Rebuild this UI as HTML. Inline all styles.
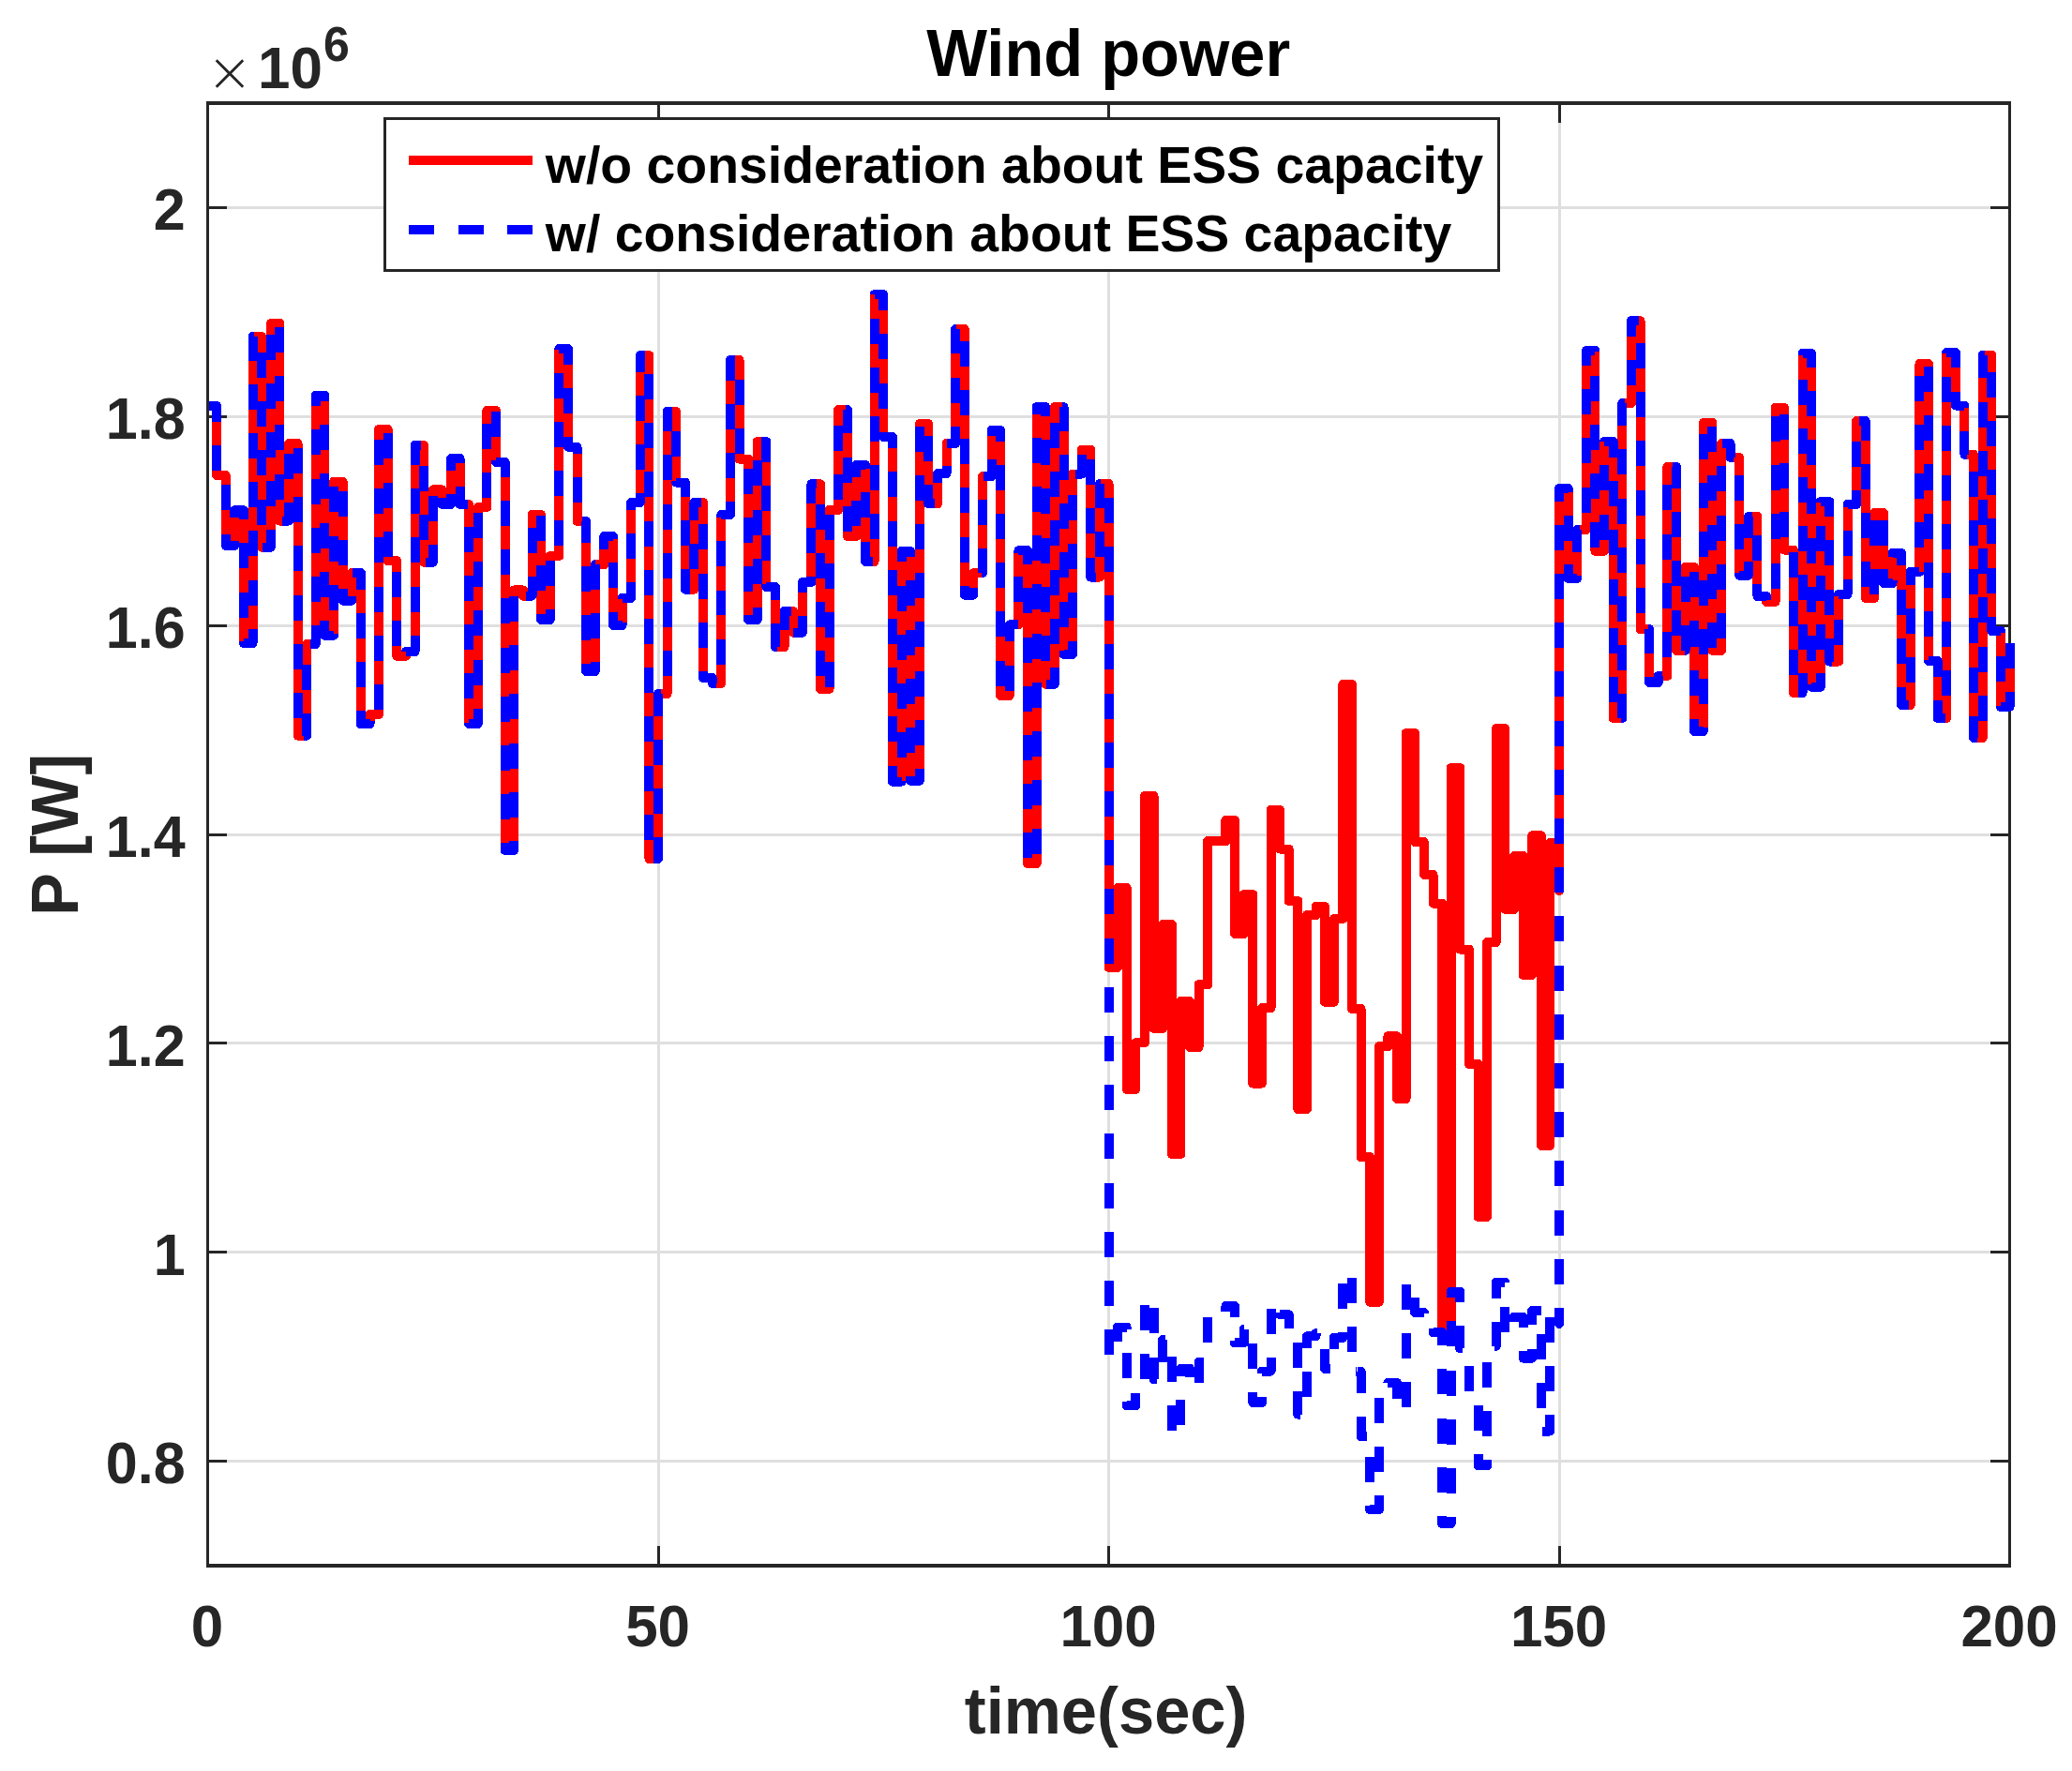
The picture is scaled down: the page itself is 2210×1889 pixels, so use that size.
<!DOCTYPE html>
<html><head><meta charset="utf-8"><title>Wind power</title>
<style>html,body{margin:0;padding:0;background:#fff}svg{display:block}text{font-family:"Liberation Sans",Arial,Helvetica,sans-serif;font-weight:bold}</style></head><body>
<svg width="2210" height="1889" viewBox="0 0 2210 1889" shape-rendering="crispEdges">
<rect width="2210" height="1889" fill="#fff"/>
<g><rect x="701" y="110" width="3" height="1560" fill="#dfdfdf"/><rect x="1181" y="110" width="3" height="1560" fill="#dfdfdf"/><rect x="1662" y="110" width="3" height="1560" fill="#dfdfdf"/><rect x="222" y="1557" width="1922" height="3" fill="#dfdfdf"/><rect x="222" y="1334" width="1922" height="3" fill="#dfdfdf"/><rect x="222" y="1111" width="1922" height="3" fill="#dfdfdf"/><rect x="222" y="889" width="1922" height="3" fill="#dfdfdf"/><rect x="222" y="666" width="1922" height="3" fill="#dfdfdf"/><rect x="222" y="443" width="1922" height="3" fill="#dfdfdf"/><rect x="222" y="220" width="1922" height="3" fill="#dfdfdf"/></g>
<defs><clipPath id="c"><rect x="223.0" y="110.0" width="1926.5" height="1560.0"/></clipPath></defs>
<g><rect x="220" y="108" width="1925" height="4" fill="#262626"/><rect x="220" y="1668" width="1925" height="4" fill="#262626"/><rect x="220" y="108" width="3" height="1564" fill="#262626"/><rect x="2142" y="108" width="3" height="1564" fill="#262626"/><rect x="701" y="1649" width="3" height="20" fill="#262626"/><rect x="701" y="111" width="3" height="20" fill="#262626"/><rect x="1181" y="1649" width="3" height="20" fill="#262626"/><rect x="1181" y="111" width="3" height="20" fill="#262626"/><rect x="1662" y="1649" width="3" height="20" fill="#262626"/><rect x="1662" y="111" width="3" height="20" fill="#262626"/><rect x="222" y="1557" width="20" height="3" fill="#262626"/><rect x="2123" y="1557" width="20" height="3" fill="#262626"/><rect x="222" y="1334" width="20" height="3" fill="#262626"/><rect x="2123" y="1334" width="20" height="3" fill="#262626"/><rect x="222" y="1111" width="20" height="3" fill="#262626"/><rect x="2123" y="1111" width="20" height="3" fill="#262626"/><rect x="222" y="889" width="20" height="3" fill="#262626"/><rect x="2123" y="889" width="20" height="3" fill="#262626"/><rect x="222" y="666" width="20" height="3" fill="#262626"/><rect x="2123" y="666" width="20" height="3" fill="#262626"/><rect x="222" y="443" width="20" height="3" fill="#262626"/><rect x="2123" y="443" width="20" height="3" fill="#262626"/><rect x="222" y="220" width="20" height="3" fill="#262626"/><rect x="2123" y="220" width="20" height="3" fill="#262626"/></g>
<g clip-path="url(#c)" fill="none" stroke-width="10" stroke-linejoin="round">
<path d="M221.5 433.1 L231.1 433.1 L231.1 506.9 L240.7 506.9 L240.7 581.9 L250.3 581.9 L250.3 544.3 L259.9 544.3 L259.9 686 L269.6 686 L269.6 359 L279.2 359 L279.2 583.8 L288.8 583.8 L288.8 345 L298.4 345 L298.4 555.6 L308 555.6 L308 473.1 L317.6 473.1 L317.6 784.7 L327.2 784.7 L327.2 686.9 L336.8 686.9 L336.8 421.9 L346.4 421.9 L346.4 677.7 L356 677.7 L356 513.7 L365.6 513.7 L365.6 640.6 L375.3 640.6 L375.3 611 L384.9 611 L384.9 772.4 L394.5 772.4 L394.5 761.9 L404.1 761.9 L404.1 457.9 L413.7 457.9 L413.7 598.1 L423.3 598.1 L423.3 699.8 L432.9 699.8 L432.9 695 L442.5 695 L442.5 475 L452.1 475 L452.1 599.7 L461.8 599.7 L461.8 522.3 L471.4 522.3 L471.4 537.8 L481 537.8 L481 489.1 L490.6 489.1 L490.6 537.9 L500.2 537.9 L500.2 771.9 L509.8 771.9 L509.8 541 L519.4 541 L519.4 437.9 L529 437.9 L529 492.9 L538.6 492.9 L538.6 906.9 L548.2 906.9 L548.2 629.4 L557.9 629.4 L557.9 635.6 L567.5 635.6 L567.5 549 L577.1 549 L577.1 661 L586.7 661 L586.7 593 L596.3 593 L596.3 372.1 L605.9 372.1 L605.9 476.6 L615.5 476.6 L615.5 555.9 L625.1 555.9 L625.1 715.9 L634.7 715.9 L634.7 602.1 L644.3 602.1 L644.3 572.1 L654 572.1 L654 666.9 L663.6 666.9 L663.6 637.8 L673.2 637.8 L673.2 536 L682.8 536 L682.8 379.1 L692.4 379.1 L692.4 915.9 L702 915.9 L702 740 L711.6 740 L711.6 439 L721.2 439 L721.2 514.5 L730.8 514.5 L730.8 628.7 L740.4 628.7 L740.4 536 L750 536 L750 723.1 L759.7 723.1 L759.7 728.8 L769.3 728.8 L769.3 549.1 L778.9 549.1 L778.9 384 L788.5 384 L788.5 489.7 L798.1 489.7 L798.1 660.9 L807.7 660.9 L807.7 471 L817.3 471 L817.3 626 L826.9 626 L826.9 690 L836.5 690 L836.5 652.1 L846.1 652.1 L846.1 674.7 L855.8 674.7 L855.8 621 L865.4 621 L865.4 516.3 L875 516.3 L875 734.8 L884.6 734.8 L884.6 544 L894.2 544 L894.2 437 L903.8 437 L903.8 571.9 L913.4 571.9 L913.4 496 L923 496 L923 598.9 L932.6 598.9 L932.6 314.1 L942.2 314.1 L942.2 466 L951.9 466 L951.9 833.7 L961.5 833.7 L961.5 588.1 L971.1 588.1 L971.1 832.8 L980.7 832.8 L980.7 452.1 L990.3 452.1 L990.3 537.4 L999.9 537.4 L999.9 505.2 L1009.5 505.2 L1009.5 473.1 L1019.1 473.1 L1019.1 351 L1028.7 351 L1028.7 634.7 L1038.3 634.7 L1038.3 611.2 L1048 611.2 L1048 508.1 L1057.6 508.1 L1057.6 459 L1067.2 459 L1067.2 741.9 L1076.8 741.9 L1076.8 666.3 L1086.4 666.3 L1086.4 587.2 L1096 587.2 L1096 921.1 L1105.6 921.1 L1105.6 434.1 L1115.2 434.1 L1115.2 729.8 L1124.8 729.8 L1124.8 434.1 L1134.5 434.1 L1134.5 697.8 L1144.1 697.8 L1144.1 505.6 L1153.7 505.6 L1153.7 479.9 L1163.3 479.9 L1163.3 615.6 L1172.9 615.6 L1172.9 516 L1182.5 516 L1182.5 1031.8 L1192.1 1031.8 L1192.1 947.1 L1201.7 947.1 L1201.7 1161.9 L1211.3 1161.9 L1211.3 1112.2 L1220.9 1112.2 L1220.9 849 L1230.5 849 L1230.5 1096.9 L1240.2 1096.9 L1240.2 985.9 L1249.8 985.9 L1249.8 1231 L1259.4 1231 L1259.4 1068.1 L1269 1068.1 L1269 1116.9 L1278.6 1116.9 L1278.6 1050.2 L1288.2 1050.2 L1288.2 897.1 L1297.8 897.1 L1307.4 897.1 L1307.4 875 L1317 875 L1317 995.9 L1326.7 995.9 L1326.7 954 L1336.3 954 L1336.3 1155.5 L1345.9 1155.5 L1345.9 1075.2 L1355.5 1075.2 L1355.5 864 L1365.1 864 L1365.1 905.6 L1374.7 905.6 L1374.7 961 L1384.3 961 L1384.3 1182.9 L1393.9 1182.9 L1393.9 976 L1403.5 976 L1403.5 967.1 L1413.1 967.1 L1413.1 1068.7 L1422.8 1068.7 L1422.8 980 L1432.4 980 L1432.4 730 L1442 730 L1442 1076 L1451.6 1076 L1451.6 1234.1 L1461.2 1234.1 L1461.2 1388.8 L1470.8 1388.8 L1470.8 1116.2 L1480.4 1116.2 L1480.4 1105.3 L1490 1105.3 L1490 1171.9 L1499.6 1171.9 L1499.6 782.1 L1509.2 782.1 L1509.2 898.1 L1518.8 898.1 L1518.8 932.8 L1528.5 932.8 L1528.5 963.5 L1538.1 963.5 L1538.1 1416.3 L1547.7 1416.3 L1547.7 819 L1557.3 819 L1557.3 1012.5 L1566.9 1012.5 L1566.9 1135 L1576.5 1135 L1576.5 1297.8 L1586.1 1297.8 L1586.1 1005.2 L1595.7 1005.2 L1595.7 777.1 L1605.3 777.1 L1605.3 969.8 L1615 969.8 L1615 913.1 L1624.6 913.1 L1624.6 1039.8 L1634.2 1039.8 L1634.2 891.2 L1643.8 891.2 L1643.8 1221.8 L1653.4 1221.8 L1653.4 899.1 L1663 899.1 L1663 950.2 L1663 520.9 L1672.6 520.9 L1672.6 616.9 L1682.2 616.9 L1682.2 565 L1691.8 565 L1691.8 374 L1701.4 374 L1701.4 587.7 L1711 587.7 L1711 471 L1720.7 471 L1720.7 766 L1730.3 766 L1730.3 430 L1739.9 430 L1739.9 342.1 L1749.5 342.1 L1749.5 671 L1759.1 671 L1759.1 727.9 L1768.7 727.9 L1768.7 721 L1778.3 721 L1778.3 497.9 L1787.9 497.9 L1787.9 693.8 L1797.5 693.8 L1797.5 605 L1807.2 605 L1807.2 780 L1816.8 780 L1816.8 451 L1826.4 451 L1826.4 693.8 L1836 693.8 L1836 473.1 L1845.6 473.1 L1845.6 487.9 L1855.2 487.9 L1855.2 613.8 L1864.8 613.8 L1864.8 551 L1874.4 551 L1874.4 635.9 L1884 635.9 L1884 641.8 L1893.6 641.8 L1893.6 435 L1903.2 435 L1903.2 586.5 L1912.9 586.5 L1912.9 739 L1922.5 739 L1922.5 376.9 L1932.1 376.9 L1932.1 732.8 L1941.7 732.8 L1941.7 535 L1951.3 535 L1951.3 705.6 L1960.9 705.6 L1960.9 634 L1970.5 634 L1970.5 538 L1980.1 538 L1980.1 449.1 L1989.7 449.1 L1989.7 637.9 L1999.3 637.9 L1999.3 547.1 L2009 547.1 L2009 621.9 L2018.6 621.9 L2018.6 590 L2028.2 590 L2028.2 751.9 L2037.8 751.9 L2037.8 609.9 L2047.4 609.9 L2047.4 388.1 L2057 388.1 L2057 704.9 L2066.6 704.9 L2066.6 765.9 L2076.2 765.9 L2076.2 376 L2085.8 376 L2085.8 432.5 L2095.4 432.5 L2095.4 484.8 L2105.1 484.8 L2105.1 786.9 L2114.7 786.9 L2114.7 378.8 L2124.3 378.8 L2124.3 672.9 L2133.9 672.9 L2133.9 753.9 L2143.5 753.9 L2143.5 686.2" stroke="#ff0000"/>
<path d="M221.5 433.1 L231.1 433.1 L231.1 506.9 L240.7 506.9 L240.7 581.9 L250.3 581.9 L250.3 544.3 L259.9 544.3 L259.9 686 L269.6 686 L269.6 359 L279.2 359 L279.2 583.8 L288.8 583.8 L288.8 345 L298.4 345 L298.4 555.6 L308 555.6 L308 473.1 L317.6 473.1 L317.6 784.7 L327.2 784.7 L327.2 686.9 L332 686.9" stroke="#0000ff" stroke-dasharray="27 25.2" stroke-dashoffset="1.0"/>
<path d="M332 686.9 L336.8 686.9 L336.8 421.9 L346.4 421.9 L346.4 677.7 L356 677.7 L356 513.7 L365.6 513.7 L365.6 640.6 L375.3 640.6 L375.3 611 L384.9 611 L384.9 772.4 L394.5 772.4 L394.5 761.9 L399.3 761.9" stroke="#0000ff" stroke-dasharray="27 25.2" stroke-dashoffset="2.4"/>
<path d="M399.3 761.9 L404.1 761.9 L404.1 457.9 L413.7 457.9 L413.7 598.1 L423.3 598.1 L423.3 699.8 L432.9 699.8 L432.9 695 L437.7 695" stroke="#0000ff" stroke-dasharray="27 25.2" stroke-dashoffset="42.4"/>
<path d="M437.7 695 L442.5 695 L442.5 475 L452.1 475 L452.1 599.7 L461.8 599.7 L461.8 522.3 L471.4 522.3 L471.4 537.8 L481 537.8 L481 489.1 L490.6 489.1 L490.6 537.9 L500.2 537.9 L500.2 771.9 L509.8 771.9 L509.8 541 L519.4 541 L519.4 437.9 L529 437.9 L529 492.9 L538.6 492.9 L538.6 906.9 L548.2 906.9 L548.2 629.4 L557.9 629.4 L557.9 635.6 L567.5 635.6 L567.5 549 L577.1 549 L577.1 661 L586.7 661 L586.7 593 L591.5 593" stroke="#0000ff" stroke-dasharray="27 25.2" stroke-dashoffset="4.9"/>
<path d="M591.5 593 L596.3 593 L596.3 372.1 L605.9 372.1 L605.9 476.6 L615.5 476.6 L615.5 555.9 L625.1 555.9 L625.1 715.9 L634.7 715.9 L634.7 602.1 L644.3 602.1 L644.3 572.1 L654 572.1 L654 666.9 L663.6 666.9 L663.6 637.8 L673.2 637.8 L673.2 536 L682.8 536 L682.8 379.1 L687.6 379.1" stroke="#0000ff" stroke-dasharray="27 25.2" stroke-dashoffset="35.9"/>
<path d="M687.6 379.1 L692.4 379.1 L692.4 915.9 L702 915.9 L702 740 L711.6 740 L711.6 439 L721.2 439 L721.2 514.5 L730.8 514.5 L730.8 628.7 L740.4 628.7 L740.4 536 L750 536 L750 723.1 L759.7 723.1 L759.7 728.8 L769.3 728.8 L769.3 549.1 L774.1 549.1" stroke="#0000ff" stroke-dasharray="27 25.2" stroke-dashoffset="27.5"/>
<path d="M774.1 549.1 L778.9 549.1 L778.9 384 L788.5 384 L788.5 489.7 L798.1 489.7 L798.1 660.9 L807.7 660.9 L807.7 471 L817.3 471 L817.3 626 L826.9 626 L826.9 690 L836.5 690 L836.5 652.1 L846.1 652.1 L846.1 674.7 L855.8 674.7 L855.8 621 L865.4 621 L865.4 516.3 L875 516.3 L875 734.8 L884.6 734.8 L884.6 544 L894.2 544 L894.2 437 L903.8 437 L903.8 571.9 L913.4 571.9 L913.4 496 L923 496 L923 598.9 L927.8 598.9" stroke="#0000ff" stroke-dasharray="27 25.2" stroke-dashoffset="8.3"/>
<path d="M927.8 598.9 L932.6 598.9 L932.6 314.1 L942.2 314.1 L942.2 466 L951.9 466 L951.9 833.7 L961.5 833.7 L961.5 588.1 L971.1 588.1 L971.1 832.8 L980.7 832.8 L980.7 452.1 L990.3 452.1 L990.3 537.4 L999.9 537.4 L999.9 505.2 L1009.5 505.2 L1009.5 473.1 L1019.1 473.1 L1019.1 351 L1023.9 351" stroke="#0000ff" stroke-dasharray="27 25.2" stroke-dashoffset="23.8"/>
<path d="M1023.9 351 L1028.7 351 L1028.7 634.7 L1038.3 634.7 L1038.3 611.2 L1048 611.2 L1048 508.1 L1057.6 508.1 L1057.6 459 L1067.2 459 L1067.2 741.9 L1076.8 741.9 L1076.8 666.3 L1086.4 666.3 L1086.4 587.2 L1096 587.2 L1096 921.1 L1100.8 921.1" stroke="#0000ff" stroke-dasharray="27 25.2" stroke-dashoffset="34.7"/>
<path d="M1100.8 921.1 L1105.6 921.1 L1105.6 434.1 L1115.2 434.1 L1115.2 729.8 L1124.8 729.8 L1124.8 434.1 L1134.5 434.1 L1134.5 697.8 L1144.1 697.8 L1144.1 505.6 L1153.7 505.6 L1153.7 479.9 L1163.3 479.9 L1163.3 615.6 L1172.9 615.6 L1172.9 516 L1177.7 516" stroke="#0000ff" stroke-dasharray="27 25.2" stroke-dashoffset="37.7"/>
<path d="M1177.7 516 L1182.5 516 L1182.5 1445.7 L1192.1 1445.7 L1192.1 1415.5 L1196.9 1415.5" stroke="#0000ff" stroke-dasharray="27 25.2" stroke-dashoffset="32.6"/>
<path d="M1196.9 1415.5 L1201.7 1415.5 L1201.7 1499.1 L1211.3 1499.1 L1211.3 1477.7 L1216.1 1477.7" stroke="#0000ff" stroke-dasharray="27 25.2" stroke-dashoffset="19.8"/>
<path d="M1216.1 1477.7 L1220.9 1477.7 L1220.9 1385.8 L1230.5 1385.8 L1230.5 1471.4 L1240.2 1471.4 L1240.2 1428.9 L1245 1428.9" stroke="#0000ff" stroke-dasharray="27 25.2" stroke-dashoffset="40.7"/>
<path d="M1245 1428.9 L1249.8 1428.9 L1249.8 1530.8 L1259.4 1530.8 L1259.4 1459.7 L1269 1459.7 L1269 1479.7 L1278.6 1479.7 L1278.6 1452.7 L1283.4 1452.7" stroke="#0000ff" stroke-dasharray="27 25.2" stroke-dashoffset="29.2"/>
<path d="M1283.4 1452.7 L1288.2 1452.7 L1288.2 1399.7 L1297.8 1399.7 L1307.4 1399.7 L1307.4 1393.1 L1317 1393.1 L1317 1432.4 L1326.7 1432.4 L1326.7 1417.8 L1331.5 1417.8" stroke="#0000ff" stroke-dasharray="27 25.2" stroke-dashoffset="26.6"/>
<path d="M1331.5 1417.8 L1336.3 1417.8 L1336.3 1496.3 L1345.9 1496.3 L1345.9 1462.6 L1350.7 1462.6" stroke="#0000ff" stroke-dasharray="27 25.2" stroke-dashoffset="32.1"/>
<path d="M1350.7 1462.6 L1355.5 1462.6 L1355.5 1390 L1365.1 1390 L1365.1 1402.3 L1374.7 1402.3 L1374.7 1420.2 L1379.5 1420.2" stroke="#0000ff" stroke-dasharray="27 25.2" stroke-dashoffset="7.7"/>
<path d="M1379.5 1420.2 L1384.3 1420.2 L1384.3 1508.6 L1393.9 1508.6 L1393.9 1425.4 L1403.5 1425.4 L1403.5 1422.3 L1408.3 1422.3" stroke="#0000ff" stroke-dasharray="27 25.2" stroke-dashoffset="35.5"/>
<path d="M1408.3 1422.3 L1413.1 1422.3 L1413.1 1460 L1422.8 1460 L1422.8 1426.8 L1432.4 1426.8 L1432.4 1357.9 L1442 1357.9 L1442 1462.9 L1446.8 1462.9" stroke="#0000ff" stroke-dasharray="27 25.2" stroke-dashoffset="30.7"/>
<path d="M1446.8 1462.9 L1451.6 1462.9 L1451.6 1532.3 L1456.4 1532.3" stroke="#0000ff" stroke-dasharray="27 25.2" stroke-dashoffset="51.5"/>
<path d="M1456.4 1532.3 L1461.2 1532.3 L1461.2 1610.4 L1466 1610.4" stroke="#0000ff" stroke-dasharray="27 25.2" stroke-dashoffset="25.9"/>
<path d="M1466 1610.4 L1470.8 1610.4 L1470.8 1479.4 L1480.4 1479.4 L1480.4 1474.8 L1490 1474.8 L1490 1503.6 L1494.8 1503.6" stroke="#0000ff" stroke-dasharray="27 25.2" stroke-dashoffset="6.7"/>
<path d="M1494.8 1503.6 L1499.6 1503.6 L1499.6 1369 L1509.2 1369 L1509.2 1400 L1518.8 1400 L1518.8 1410.9 L1528.5 1410.9 L1528.5 1421.1 L1533.3 1421.1" stroke="#0000ff" stroke-dasharray="27 25.2" stroke-dashoffset="44.8"/>
<path d="M1533.3 1421.1 L1538.1 1421.1 L1538.1 1625.3 L1542.9 1625.3" stroke="#0000ff" stroke-dasharray="27 25.2" stroke-dashoffset="8.2"/>
<path d="M1542.9 1625.3 L1547.7 1625.3 L1547.7 1377.9 L1557.3 1377.9 L1557.3 1438.4 L1562.1 1438.4" stroke="#0000ff" stroke-dasharray="27 25.2" stroke-dashoffset="15.0"/>
<path d="M1562.1 1438.4 L1566.9 1438.4 L1566.9 1487.4 L1571.7 1487.4" stroke="#0000ff" stroke-dasharray="27 25.2" stroke-dashoffset="28.9"/>
<path d="M1571.7 1487.4 L1576.5 1487.4 L1576.5 1563.4 L1581.3 1563.4" stroke="#0000ff" stroke-dasharray="27 25.2" stroke-dashoffset="35.8"/>
<path d="M1581.3 1563.4 L1586.1 1563.4 L1586.1 1435.8 L1595.7 1435.8 L1595.7 1367.9 L1605.3 1367.9 L1605.3 1423.2 L1615 1423.2 L1615 1404.6 L1624.6 1404.6 L1624.6 1448.7 L1634.2 1448.7 L1634.2 1397.9 L1639 1397.9" stroke="#0000ff" stroke-dasharray="27 25.2" stroke-dashoffset="15.9"/>
<path d="M1639 1397.9 L1643.8 1397.9 L1643.8 1526.5 L1648.6 1526.5" stroke="#0000ff" stroke-dasharray="27 25.2" stroke-dashoffset="22.3"/>
<path d="M1648.6 1526.5 L1653.4 1526.5 L1653.4 1400.3 L1658.2 1400.3" stroke="#0000ff" stroke-dasharray="27 25.2" stroke-dashoffset="4.7"/>
<path d="M1658.2 1400.3 L1663 1400.3 L1663 1411.9 L1663 520.9 L1672.6 520.9 L1672.6 616.9 L1682.2 616.9 L1682.2 565 L1691.8 565 L1691.8 374 L1701.4 374 L1701.4 587.7 L1711 587.7 L1711 471 L1720.7 471 L1720.7 766 L1730.3 766 L1730.3 430 L1739.9 430 L1739.9 342.1 L1744.7 342.1" stroke="#0000ff" stroke-dasharray="27 25.2" stroke-dashoffset="45.9"/>
<path d="M1744.7 342.1 L1749.5 342.1 L1749.5 671 L1759.1 671 L1759.1 727.9 L1768.7 727.9 L1768.7 721 L1778.3 721 L1778.3 497.9 L1787.9 497.9 L1787.9 693.8 L1797.5 693.8 L1797.5 605 L1807.2 605 L1807.2 780 L1816.8 780 L1816.8 451 L1826.4 451 L1826.4 693.8 L1836 693.8 L1836 473.1 L1845.6 473.1 L1845.6 487.9 L1855.2 487.9 L1855.2 613.8 L1864.8 613.8 L1864.8 551 L1874.4 551 L1874.4 635.9 L1884 635.9 L1884 641.8 L1893.6 641.8 L1893.6 435 L1903.2 435 L1903.2 586.5 L1912.9 586.5 L1912.9 739 L1917.7 739" stroke="#0000ff" stroke-dasharray="27 25.2" stroke-dashoffset="23.5"/>
<path d="M1917.7 739 L1922.5 739 L1922.5 376.9 L1932.1 376.9 L1932.1 732.8 L1941.7 732.8 L1941.7 535 L1951.3 535 L1951.3 705.6 L1960.9 705.6 L1960.9 634 L1970.5 634 L1970.5 538 L1980.1 538 L1980.1 449.1 L1989.7 449.1 L1989.7 637.9 L1999.3 637.9 L1999.3 547.1 L2009 547.1 L2009 621.9 L2018.6 621.9 L2018.6 590 L2028.2 590 L2028.2 751.9 L2037.8 751.9 L2037.8 609.9 L2042.6 609.9" stroke="#0000ff" stroke-dasharray="27 25.2" stroke-dashoffset="1.0"/>
<path d="M2042.6 609.9 L2047.4 609.9 L2047.4 388.1 L2057 388.1 L2057 704.9 L2066.6 704.9 L2066.6 765.9 L2076.2 765.9 L2076.2 376 L2085.8 376 L2085.8 432.5 L2095.4 432.5 L2095.4 484.8 L2105.1 484.8 L2105.1 786.9 L2109.9 786.9" stroke="#0000ff" stroke-dasharray="27 25.2" stroke-dashoffset="21.8"/>
<path d="M2109.9 786.9 L2114.7 786.9 L2114.7 378.8 L2124.3 378.8 L2124.3 672.9 L2133.9 672.9 L2133.9 753.9 L2143.5 753.9 L2143.5 686.2" stroke="#0000ff" stroke-dasharray="27 25.2" stroke-dashoffset="29.3"/>
</g>
<g shape-rendering="auto"><text transform="translate(221.1 1756.4) scale(1 1.025)" font-size="62" text-anchor="middle" fill="#262626">0</text><text transform="translate(701.6 1756.4) scale(1 1.025)" font-size="62" text-anchor="middle" fill="#262626">50</text><text transform="translate(1182.1 1756.4) scale(1 1.025)" font-size="62" text-anchor="middle" fill="#262626">100</text><text transform="translate(1662.6 1756.4) scale(1 1.025)" font-size="62" text-anchor="middle" fill="#262626">150</text><text transform="translate(2143.1 1756.4) scale(1 1.025)" font-size="62" text-anchor="middle" fill="#262626">200</text><text transform="translate(197.6 1582.47) scale(0.985 1.025)" font-size="62" text-anchor="end" fill="#262626">0.8</text><text transform="translate(197.6 1359.61) scale(0.985 1.025)" font-size="62" text-anchor="end" fill="#262626">1</text><text transform="translate(197.6 1136.76) scale(0.985 1.025)" font-size="62" text-anchor="end" fill="#262626">1.2</text><text transform="translate(197.6 913.9) scale(0.985 1.025)" font-size="62" text-anchor="end" fill="#262626">1.4</text><text transform="translate(197.6 691.043) scale(0.985 1.025)" font-size="62" text-anchor="end" fill="#262626">1.6</text><text transform="translate(197.6 468.186) scale(0.985 1.025)" font-size="62" text-anchor="end" fill="#262626">1.8</text><text transform="translate(197.6 245.329) scale(0.985 1.025)" font-size="62" text-anchor="end" fill="#262626">2</text></g>
<g shape-rendering="auto">
<text transform="translate(220.3 97.1)" font-size="59" text-anchor="start" fill="#262626" style="font-weight:normal;font-family:'DejaVu Sans Light','DejaVu Sans','Liberation Sans',sans-serif">×</text>
<text transform="translate(275 94.2) scale(1 1.025)" font-size="62" text-anchor="start" fill="#262626">10</text>
<text transform="translate(345 65.2) scale(1 1.025)" font-size="50" text-anchor="start" fill="#262626">6</text>
</g>
<g shape-rendering="auto">
<text transform="translate(1182.2 81) scale(0.984 1)" font-size="69.7" text-anchor="middle" fill="#000">Wind power</text>
<text transform="translate(1179.6 1849.3) scale(0.986 1)" font-size="69.7" text-anchor="middle" fill="#262626">time(sec)</text>
<text transform="translate(83 890.3) rotate(-90) scale(0.978 1)" font-size="69.7" text-anchor="middle" fill="#262626">P [W]</text>
</g>
<g>
<rect x="410.5" y="126.2" width="1188" height="162.5" fill="#fff" stroke="#262626" stroke-width="3"/>
<rect x="436" y="166" width="132" height="10" fill="#ff0000"/>
<rect x="436.0" y="240" width="26.8" height="10" fill="#0000ff"/>
<rect x="489.0" y="240" width="26.8" height="10" fill="#0000ff"/>
<rect x="541.3" y="240" width="26.8" height="10" fill="#0000ff"/>
<g shape-rendering="auto">
<text transform="translate(581.8 194.5) scale(0.984 1)" font-size="56.3" text-anchor="start" fill="#000">w/o consideration about ESS capacity</text>
<text transform="translate(581.8 268.4) scale(0.984 1)" font-size="56.3" text-anchor="start" fill="#000">w/ consideration about ESS capacity</text>
</g></g>
</svg></body></html>
